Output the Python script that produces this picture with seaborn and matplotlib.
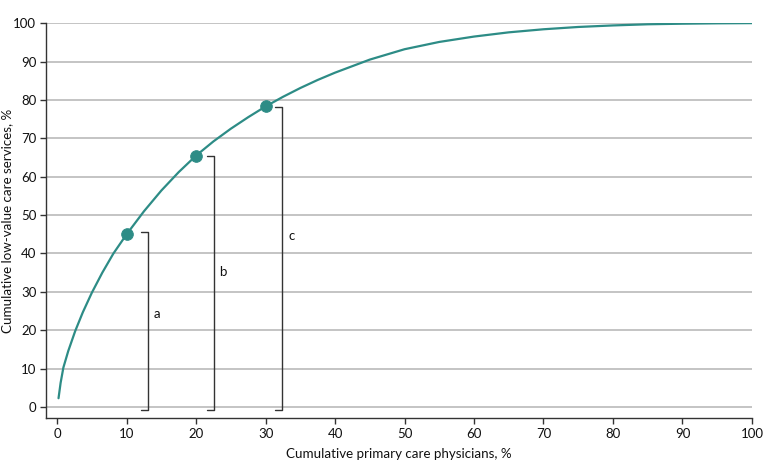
import matplotlib
matplotlib.use("Agg")
import matplotlib.pyplot as plt
import seaborn as sns
import pandas as pd

# Curve
curve_x = [0.2, 0.5, 0.9, 1.6, 2.6, 3.7, 5.0, 6.5, 8.1, 10, 12.5, 15, 17.5, 20, 22.5, 25, 27.5, 30,
           32.5, 35, 37.5, 40, 45, 50, 55, 60, 65, 70, 75, 80, 85, 90, 95, 100]
curve_y = [2.3, 6.3, 10.3, 14.6, 19.8, 24.7, 29.8, 35, 40, 45, 51.0, 56.4, 61.2, 65.5, 69.2, 72.5, 75.5, 78.3,
           80.8, 83.1, 85.2, 87.1, 90.5, 93.2, 95.1, 96.5, 97.6, 98.4, 99.0, 99.4, 99.7, 99.85, 99.95, 100]

point_x = [10, 20, 30]
point_y = [45, 65.5, 78.3]

bracket_labels = ["a", "b", "c"]
bracket_x = [13.1, 22.6, 32.4]
bracket_top = [45.5, 65.4, 78.1]
bracket_bottom = -0.7
label_y = [24.2, 35.2, 44.6]

x_ticks = list(range(0, 101, 10))
y_ticks = list(range(0, 101, 10))

teal = "#2d8c86"

sns.set_theme(style="white")
plt.rcParams['font.family'] = ['Lato', 'DejaVu Sans']

fig = plt.figure(figsize=(7.8, 4.72), dpi=100)
ax = fig.add_axes([0.059, 0.114, 0.905, 0.837])

curve = pd.DataFrame({"x": curve_x, "y": curve_y})
pts = pd.DataFrame({"x": point_x, "y": point_y})

for yv in y_ticks:
    ax.axhline(yv, color="#c4c4c4", lw=1.4, zorder=0)

sns.lineplot(data=curve, x="x", y="y", ax=ax, color=teal, lw=1.6, zorder=3)
sns.scatterplot(data=pts, x="x", y="y", ax=ax, color=teal, s=70, edgecolor=teal, zorder=4)

for lab, bx, top, ly in zip(bracket_labels, bracket_x, bracket_top, label_y):
    ax.plot([bx - 1.0, bx, bx, bx - 1.0], [top, top, bracket_bottom, bracket_bottom],
            color="#333333", lw=1.0, zorder=2)
    ax.text(bx + 1.3, ly, lab, fontsize=9.5,
            color="#111111", ha="center", va="center")

ax.set_xlim(-1.6, 100)
ax.set_ylim(-2.9, 100)
ax.set_xticks(x_ticks)
ax.set_yticks(y_ticks)
ax.tick_params(axis="both", which="both", direction="out", length=4, width=1,
               color="#333333", labelsize=9.5, labelcolor="#111111", pad=3,
               bottom=True, left=True)
for side in ["top", "right"]:
    ax.spines[side].set_visible(False)
for side in ["left", "bottom"]:
    ax.spines[side].set_color("#333333")
    ax.spines[side].set_linewidth(1.0)

ax.set_xlabel("Cumulative primary care physicians, %", fontsize=9.6, color="#111111", labelpad=6)
ax.set_ylabel("Cumulative low-value care services, %", fontsize=9.6, color="#111111")
ax.yaxis.set_label_coords(-0.046, 0.5)

fig.savefig("out.png", dpi=100)
